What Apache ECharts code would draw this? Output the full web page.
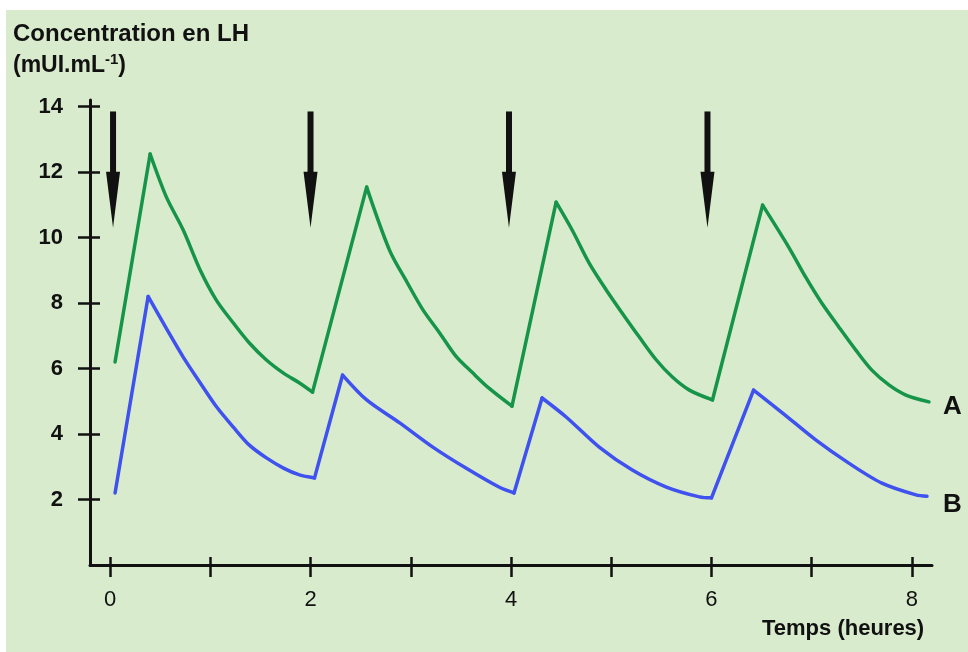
<!DOCTYPE html>
<html>
<head>
<meta charset="utf-8">
<script src="https://cdn.jsdelivr.net/npm/echarts@6/dist/echarts.min.js"></script>
<style>
  html, body { margin: 0; padding: 0; background: #fff; }
  #chart { position: absolute; left: 6px; top: 10px; width: 962px; height: 642px; }
</style>
</head>
<body>
<div id="chart"></div>
<script>
// courbe A (vert)
const timeA = [0.05, 0.40, 0.56, 0.73, 0.90, 1.06, 1.23, 1.39, 1.56, 1.73, 1.89, 2.02,
  2.56, 2.79, 2.96, 3.12, 3.29, 3.45, 3.62, 3.78, 4.01,
  4.45, 4.61, 4.78, 4.95, 5.11, 5.28, 5.45, 5.61, 5.78, 6.01,
  6.51, 6.77, 6.94, 7.10, 7.27, 7.44, 7.60, 7.77, 7.94, 8.17];
const concA = [6.2, 12.55, 11.25, 10.23, 9.0, 8.09, 7.39, 6.78, 6.26, 5.86, 5.56, 5.28,
  11.54, 9.6, 8.65, 7.8, 7.08, 6.38, 5.86, 5.40, 4.85,
  11.08, 10.23, 9.22, 8.4, 7.69, 6.96, 6.26, 5.74, 5.34, 5.04,
  10.99, 9.71, 8.79, 8.0, 7.27, 6.56, 5.95, 5.5, 5.19, 4.98];
// courbe B (bleu)
const timeB = [0.05, 0.38, 0.57, 0.73, 0.90, 1.06, 1.23, 1.39, 1.56, 1.73, 1.89, 2.04,
  2.32, 2.56, 2.89, 3.22, 3.55, 3.88, 4.03,
  4.31, 4.55, 4.88, 5.21, 5.55, 5.88, 6.0,
  6.42, 6.71, 7.04, 7.37, 7.70, 8.04, 8.15];
const concB = [2.2, 8.2, 7.18, 6.35, 5.56, 4.84, 4.21, 3.66, 3.27, 2.96, 2.75, 2.66,
  5.8, 5.04, 4.34, 3.6, 2.96, 2.38, 2.2,
  5.1, 4.52, 3.6, 2.9, 2.38, 2.08, 2.05,
  5.34, 4.64, 3.82, 3.11, 2.5, 2.14, 2.1];
// injections (flèches) : temps, haut, pointe
const injTimes = [0.03, 2.0, 3.98, 5.96];
const injTop = 13.85;
const injTip = 10.3;

const xTicks = [0, 1, 2, 3, 4, 5, 6, 7, 8];
const xLabels = [0, 2, 4, 6, 8];
const yTicks = [2, 4, 6, 8, 10, 12, 14];

const bg = '#d8ebcc';
const font = '"Liberation Sans", Arial, sans-serif';

var myChart = echarts.init(document.getElementById('chart'));

// montée = segment droit, décroissance = courbe lissée
function curveSeries(t, v, color) {
  const pts = t.map((x, i) => [x, v[i]]);
  const out = [];
  let start = 0;
  for (let i = 1; i < pts.length; i++) {
    const rising = v[i] > v[i - 1];
    const endOfRun = i === pts.length - 1 || (v[i + 1] > v[i]) !== rising;
    if (endOfRun) {
      out.push({
        type: 'line', data: pts.slice(start, i + 1), showSymbol: false,
        smooth: rising ? false : 0.3,
        lineStyle: { color: color, width: 3.5, cap: 'round', join: 'round' }
      });
      start = i;
    }
  }
  return out;
}

myChart.setOption({
  backgroundColor: bg,
  animation: false,
  grid: { left: 84, top: 90, right: 36, bottom: 87 },
  xAxis: [{
    type: 'value', min: -0.2, max: 8.2, position: 'bottom',
    axisLine: { onZero: false, lineStyle: { color: '#111', width: 3 } },
    axisTick: { customValues: xTicks, length: 12, lineStyle: { color: '#111', width: 2.5 } },
    axisLabel: { customValues: xLabels, margin: 24, fontSize: 22, color: '#111', fontFamily: font },
    splitLine: { show: false }
  }, {
    type: 'value', min: -0.2, max: 8.2, position: 'bottom',
    axisLine: { show: false, onZero: false },
    axisTick: { inside: true, customValues: xTicks, length: 8, lineStyle: { color: '#111', width: 2.5 } },
    axisLabel: { show: false },
    splitLine: { show: false }
  }],
  yAxis: [{
    type: 'value', min: 0, max: 14.2, position: 'left',
    axisLine: { onZero: false, lineStyle: { color: '#111', width: 3 } },
    axisTick: { customValues: yTicks, length: 12, lineStyle: { color: '#111', width: 2.5 } },
    axisLabel: { customValues: yTicks, margin: 27, fontSize: 22, fontWeight: 'bold', color: '#111', fontFamily: font },
    splitLine: { show: false }
  }, {
    type: 'value', min: 0, max: 14.2, position: 'left',
    axisLine: { show: false, onZero: false },
    axisTick: { inside: true, customValues: yTicks, length: 10, lineStyle: { color: '#111', width: 2.5 } },
    axisLabel: { show: false },
    splitLine: { show: false }
  }],
  graphic: [
    { type: 'text', left: 7, top: 12, style: { text: 'Concentration en LH', font: 'bold 24px ' + font, fill: '#111' } },
    { type: 'text', left: 7, top: 42, style: {
        text: '(mUI.mL{s|-1})', font: 'bold 23px ' + font, fill: '#111',
        rich: { s: { fontSize: 15, fontWeight: 'bold', fontFamily: font, padding: [0, 0, 12, 0] } }
    } },
    { type: 'text', left: 756, top: 608, style: { text: 'Temps (heures)', font: 'bold 22px ' + font, fill: '#111' } },
    { type: 'text', left: 937, top: 384, style: { text: 'A', font: 'bold 26px ' + font, fill: '#111' } },
    { type: 'text', left: 937, top: 482, style: { text: 'B', font: 'bold 26px ' + font, fill: '#111' } }
  ],
  series: [
    ...curveSeries(timeA, concA, '#16954a'),
    ...curveSeries(timeB, concB, '#3f51ee'),
    {
      type: 'custom',
      data: injTimes.map(t => [t, injTop, injTip]),
      renderItem(params, api) {
        const top = api.coord([api.value(0), api.value(1)]);
        const tip = api.coord([api.value(0), api.value(2)]);
        const x = top[0];
        const headY = tip[1] - 56;
        return {
          type: 'group',
          children: [{
            type: 'rect',
            shape: { x: x - 3, y: top[1], width: 6, height: headY - top[1] + 2 },
            style: { fill: '#111' }
          }, {
            type: 'polygon',
            shape: { points: [[x - 7, headY], [x + 7, headY], [x, tip[1]]] },
            style: { fill: '#111' }
          }]
        };
      }
    }
  ]
});
</script>
</body>
</html>
